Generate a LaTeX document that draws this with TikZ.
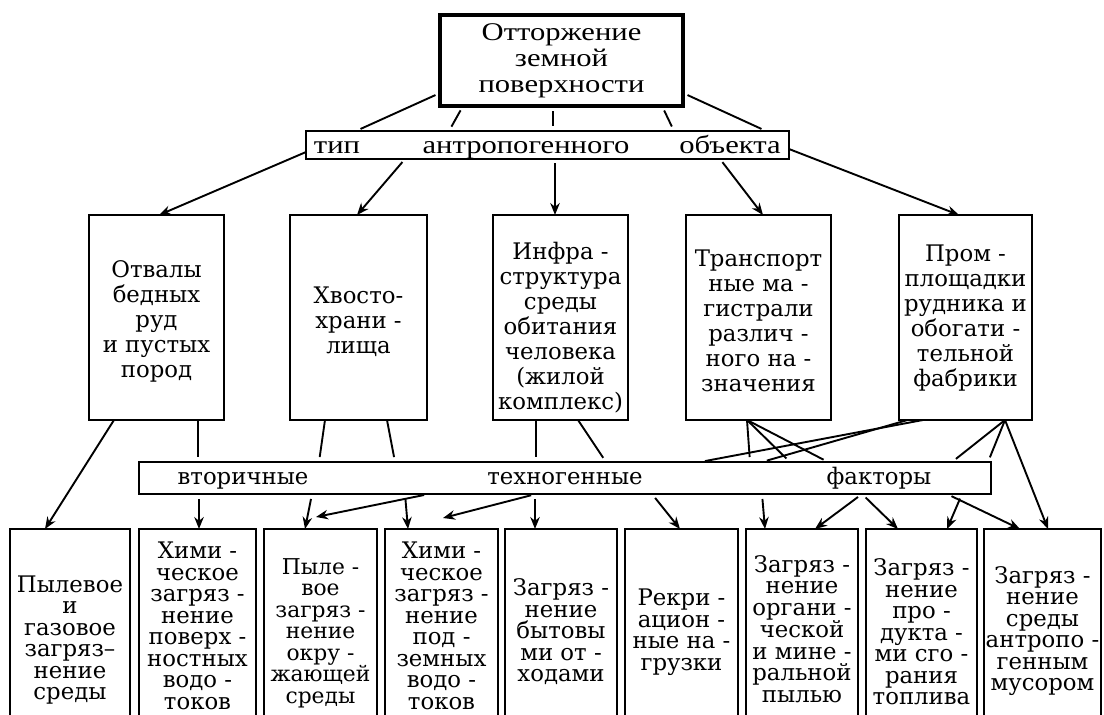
\documentclass[tikz,border=0pt]{standalone}
\usepackage{fontspec}
\usetikzlibrary{arrows.meta}
\newfontfamily\boxfont{DejaVu Serif}
\newfontfamily\topfont[FakeStretch=1.2]{Liberation Serif}
\begin{document}
\begin{tikzpicture}[x=1pt,y=1pt,
  box/.style={draw, line width=1.9pt, inner sep=0pt, outer sep=0pt},
  toptext/.style={align=center, font=\topfont\fontsize{25.5}{26}\selectfont, inner sep=0pt},
  midtext/.style={align=center, font=\boxfont\fontsize{22.8}{25}\selectfont, inner sep=0pt},
  bottext/.style={align=center, font=\boxfont\fontsize{22.8}{21.5}\selectfont, inner sep=0pt},
  bartext/.style={font=\boxfont\fontsize{22.8}{24}\selectfont, inner sep=0pt, anchor=base},
  bar1text/.style={font=\topfont\fontsize{25.5}{26}\selectfont, inner sep=0pt, anchor=base},
  link/.style={line width=1.9pt},
  tl/.style={link, shorten <=5pt, shorten >=5pt},
  ml/.style={link, shorten >=5pt},
  arr/.style={link, -{Stealth[length=12pt,width=9.5pt]}},
  ba/.style={arr, shorten <=5pt}]
\useasboundingbox (0,0) rectangle (1104,-715);
\clip (0,0) rectangle (1104,-715);
\fill[white] (0,0) rectangle (1104,-715);

% top box
\node[box, line width=4.5pt, minimum width=243pt, minimum height=91pt, toptext] (T) at (561.5,-60.5) {Отторжение\\земной\\поверхности};

% bar 1
\node[box, minimum width=483pt, minimum height=28pt] (B1) at (547.5,-145) {};
\node[bar1text] (b1a) at (337,-153) {тип};
\node[bar1text] (b1b) at (526,-153) {антропогенного};
\node[bar1text] (b1c) at (730,-153) {объекта};

\draw[tl] ([yshift=-32.5pt]T.west) -- ([xshift=-191.5pt]B1.north);
\draw[tl] ([xshift=-98.5pt]T.south) -- ([xshift=-98.5pt]B1.north);
\draw[tl] ([xshift=-8.5pt]T.south) -- ([xshift=5.5pt]B1.north);
\draw[tl] ([xshift=100.5pt]T.south) -- ([xshift=126.5pt]B1.north);
\draw[tl] ([yshift=-32.5pt]T.east) -- ([xshift=218.5pt]B1.north);

% middle boxes
\node[box, minimum width=135pt, minimum height=205pt] (M1) at (156.5,-317.5) {};
\node[box, minimum width=137pt, minimum height=205pt] (M2) at (358.5,-317.5) {};
\node[box, minimum width=135pt, minimum height=205pt] (M3) at (560.5,-317.5) {};
\node[box, minimum width=145pt, minimum height=205pt] (M4) at (758.5,-317.5) {};
\node[box, minimum width=133pt, minimum height=205pt] (M5) at (965.5,-317.5) {};

\node[midtext] (m1t) at (156.5,-321) {Отвалы\\бедных\\руд\\и пустых\\пород};
\node[midtext] (m2t) at (358.5,-322) {Хвосто-\\храни -\\лища};
\node[midtext] (m3t) at (560.5,-328) {Инфра -\\структура\\среды\\обитания\\человека\\(жилой\\комплекс)};
\node[midtext] (m4t) at (758.5,-321) {Транспорт\\ные ма -\\гистрали\\различ -\\ного на -\\значения};
\node[midtext] (m5t) at (965.5,-318) {Пром -\\площадки\\рудника и\\обогати -\\тельной\\фабрики};

\draw[arr] ([yshift=-7pt]B1.west) -- ([xshift=2.5pt]M1.north);
\draw[arr, shorten <=4pt] ([xshift=-142.5pt]B1.south) -- ([xshift=-1.5pt]M2.north);
\draw[arr, shorten <=4pt] ([xshift=7.5pt]B1.south) -- ([xshift=-5.5pt]M3.north);
\draw[arr, shorten <=4pt] ([xshift=172.5pt]B1.south) -- ([xshift=4.5pt]M4.north);
\draw[arr] ([yshift=-4pt]B1.east) -- ([xshift=-6.5pt]M5.north);

% bar 2
\node[box, minimum width=852pt, minimum height=32pt] (B2) at (565,-478) {};
\node[bartext] (b2a) at (243,-484) {вторичные};
\node[bartext] (b2b) at (565,-484) {техногенные};
\node[bartext] (b2c) at (879,-484) {факторы};

% bottom boxes
\node[box, minimum width=120pt, minimum height=206pt] (P1) at (70,-632) {};
\node[box, minimum width=117pt, minimum height=206pt] (P2) at (197.5,-632) {};
\node[box, minimum width=113pt, minimum height=206pt] (P3) at (320.5,-632) {};
\node[box, minimum width=113pt, minimum height=206pt] (P4) at (441.5,-632) {};
\node[box, minimum width=112pt, minimum height=206pt] (P5) at (561,-632) {};
\node[box, minimum width=113pt, minimum height=206pt] (P6) at (681.5,-632) {};
\node[box, minimum width=112pt, minimum height=206pt] (P7) at (802,-632) {};
\node[box, minimum width=111pt, minimum height=206pt] (P8) at (921.5,-632) {};
\node[box, minimum width=117pt, minimum height=206pt] (P9) at (1042.5,-632) {};

\node[bottext] (p1t) at (70,-640) {Пылевое\\и\\газовое\\загряз–\\нение\\среды};
\node[bottext] (p2t) at (197.5,-626) {Хими -\\ческое\\загряз -\\нение\\поверх -\\ностных\\водо -\\токов};
\node[bottext, font=\boxfont\fontsize{21.8}{21.5}\selectfont] (p3t) at (320.5,-633) {Пыле -\\вое\\загряз -\\нение\\окру -\\жающей\\среды};
\node[bottext] (p4t) at (441.5,-626) {Хими -\\ческое\\загряз -\\нение\\под -\\земных\\водо -\\токов};
\node[bottext] (p5t) at (561,-632) {Загряз -\\нение\\бытовы\\ми от -\\ходами};
\node[bottext] (p6t) at (681.5,-632) {Рекри -\\ацион -\\ные на -\\грузки};
\node[bottext] (p7t) at (802,-629) {Загряз -\\нение\\органи -\\ческой\\и мине -\\ральной\\пылью};
\node[bottext] (p8t) at (921.5,-632) {Загряз -\\нение\\про -\\дукта -\\ми сго -\\рания\\топлива};
\node[bottext] (p9t) at (1042.5,-631) {Загряз -\\нение\\среды\\антропо -\\генным\\мусором};

% middle boxes to bar 2
\draw[ml] ([xshift=41.5pt]M1.south) -- ([xshift=-367pt]B2.north);
\draw[ml] ([xshift=-33.5pt]M2.south) -- ([xshift=-246pt]B2.north);
\draw[ml] ([xshift=28.5pt]M2.south) -- ([xshift=-170pt]B2.north);
\draw[ml] ([xshift=-24.5pt]M3.south) -- ([xshift=-29pt]B2.north);
\draw[ml] ([xshift=17.5pt]M3.south) -- ([xshift=41pt]B2.north);
\draw[ml] ([xshift=-11.5pt]M4.south) -- ([xshift=185pt]B2.north);
\draw[ml] ([xshift=-11.5pt]M4.south) -- ([xshift=225pt]B2.north);
\draw[ml] ([xshift=-11.5pt]M4.south) -- ([xshift=263pt]B2.north);
\draw[ml] ([xshift=-42.5pt]M5.south) -- ([xshift=135pt]B2.north);
\draw[ml] ([xshift=-58pt]M5.south) -- ([xshift=197pt]B2.north);
\draw[ml] ([xshift=39.5pt]M5.south) -- ([xshift=387pt]B2.north);
\draw[ml] ([xshift=39.5pt]M5.south) -- ([xshift=423pt]B2.north);

% long arrows passing the bar
\draw[arr] ([xshift=-42.5pt]M1.south) -- ([xshift=-25pt]P1.north);
\draw[arr] ([xshift=39.5pt]M5.south) -- ([xshift=5.5pt]P9.north);

% bar 2 to bottom boxes
\coordinate (fa1) at (316,-517);
\coordinate (fa2) at (443,-518);
\draw[ba] ([xshift=-366pt]B2.south) -- ([xshift=1.5pt]P2.north);
\draw[ba] ([xshift=-253pt]B2.south) -- ([xshift=-15.5pt]P3.north);
\draw[ba] ([xshift=-136pt]B2.south) -- (fa1);
\draw[ba] ([xshift=-160pt]B2.south) -- ([xshift=-33.5pt]P4.north);
\draw[ba] ([xshift=-29pt]B2.south) -- (fa2);
\draw[ba] ([xshift=-30pt]B2.south) -- ([xshift=-26pt]P5.north);
\draw[ba] ([xshift=87pt]B2.south) -- ([xshift=-1.5pt]P6.north);
\draw[ba] ([xshift=197pt]B2.south) -- ([xshift=-37pt]P7.north);
\draw[ba] ([xshift=297pt]B2.south) -- ([xshift=13pt]P7.north);
\draw[ba] ([xshift=297pt]B2.south) -- ([xshift=-23.5pt]P8.north);
\draw[ba] ([xshift=382pt]B2.south) -- ([xshift=-22.5pt]P9.north);
\draw[ba] ([xshift=397pt]B2.south) -- ([xshift=25.5pt]P8.north);
\end{tikzpicture}
\end{document}
